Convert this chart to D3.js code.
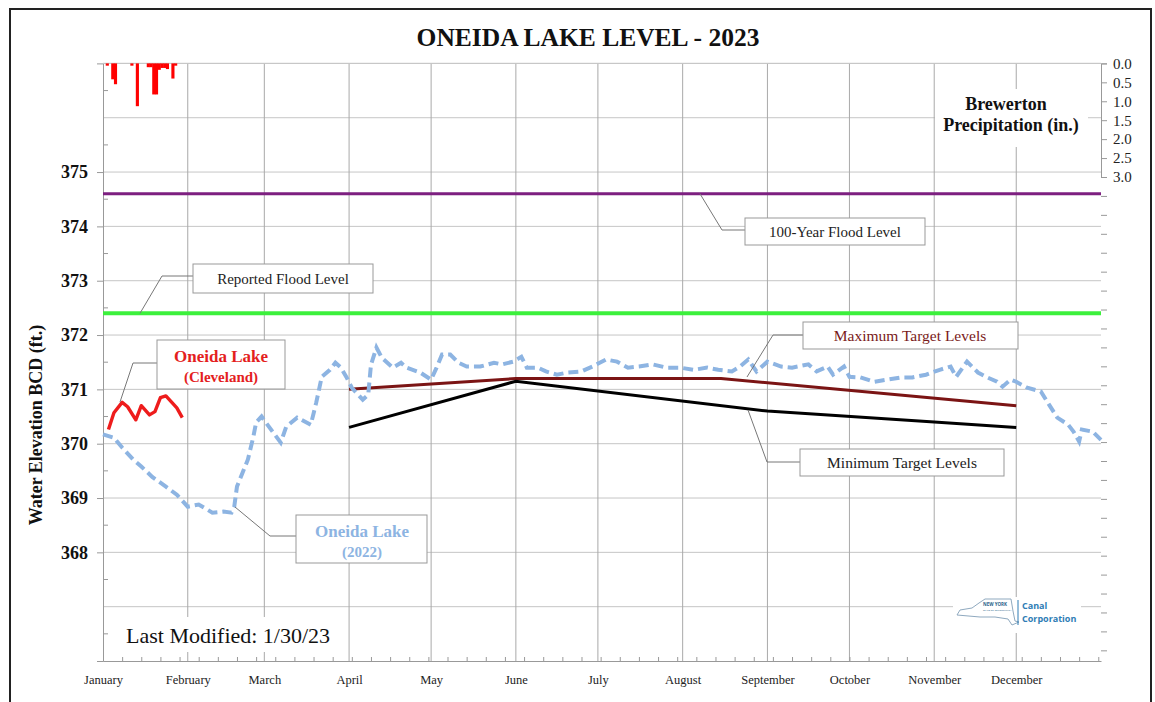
<!DOCTYPE html>
<html lang="en">
<head>
<meta charset="UTF-8"/>
<title>Oneida Lake Level - 2023</title>
<script src="https://d3js.org/d3.v7.min.js"></script>
<style>
    body { margin: 0; background: #fff; }
    text { font-family: "Liberation Serif", "Times New Roman", serif; }
</style>
</head>
<body>
<div id="chart"></div>
<script>

    // day of year (0 = Jan 1) and level in ft, Oneida Lake (Cleveland) 2023
    const lake2023Days = [2, 4, 7, 9, 12, 14, 17, 19, 21, 23, 25, 27, 29];
    const lake2023Levels = [370.26, 370.57, 370.76, 370.68, 370.44, 370.70, 370.53, 370.59, 370.85, 370.88, 370.77, 370.66, 370.48];

    // Oneida Lake 2022 (plotted on the same calendar)
    const lake2022Days = [0, 4, 7, 11, 14, 18, 23, 27, 31, 35, 40, 44, 47, 48, 49, 51, 53, 55, 56, 58,
        61, 65, 67, 71, 76, 78, 80, 83, 85, 87, 89, 91, 95, 97, 98, 100, 102, 106, 109, 111,
        116, 120, 122, 124, 127, 130, 133, 138, 143, 146, 150, 153, 155, 159, 162, 166, 170, 175, 179, 184,
        188, 192, 196, 201, 206, 211, 216, 221, 225, 230, 233, 236, 239, 243, 248, 252, 258, 261, 265, 267,
        271, 273, 277, 282, 287, 292, 296, 301, 306, 310, 312, 316, 320, 323, 327, 329, 332, 334, 338, 343,
        346, 349, 353, 355, 357, 358, 362, 365];
    const lake2022Levels = [370.17, 370.11, 369.93, 369.71, 369.58, 369.39, 369.21, 369.06, 368.84, 368.88,
        368.73, 368.75, 368.73, 368.84, 369.21, 369.46, 369.71, 370.13, 370.39, 370.50,
        370.29, 370.02, 370.31, 370.48, 370.35, 370.76, 371.23, 371.36, 371.49, 371.40,
        371.23, 371.03, 370.81, 370.90, 371.45, 371.77, 371.58, 371.40, 371.49, 371.40,
        371.31, 371.18, 371.40, 371.64, 371.64, 371.49, 371.42, 371.42, 371.49, 371.46,
        371.51, 371.60, 371.40, 371.40, 371.33, 371.27, 371.31, 371.33, 371.42, 371.55,
        371.51, 371.40, 371.42, 371.46, 371.40, 371.40, 371.36, 371.40, 371.36, 371.33,
        371.42, 371.55, 371.33, 371.51, 371.42, 371.40, 371.46, 371.33, 371.42, 371.27,
        371.42, 371.23, 371.22, 371.14, 371.18, 371.22, 371.22, 371.27, 371.36, 371.42,
        371.23, 371.51, 371.31, 371.23, 371.14, 371.05, 371.18, 371.14, 371.03, 370.96,
        370.72, 370.48, 370.35, 370.22, 370.04, 370.26, 370.22, 370.07];

    // Brewerton daily precipitation (in.)
    const precipDays = [1, 3, 4, 10, 12, 16, 17, 18, 19, 20, 21, 22, 23, 25, 26];
    const precipInches = [0.06, 0.42, 0.55, 0.06, 1.13, 0.10, 0.10, 0.82, 0.82, 0.17, 0.12, 0.12, 0.15, 0.40, 0.06];

    // target levels
    const maxTargetDates = ["2023-04-01", "2023-06-01", "2023-08-15", "2023-12-01"];
    const maxTargetLevels = [371.0, 371.2, 371.2, 370.7];
    const minTargetDates = ["2023-04-01", "2023-06-01", "2023-09-01", "2023-11-01", "2023-12-01"];
    const minTargetLevels = [370.3, 371.15, 370.6, 370.4, 370.3];

    const floodLevel100 = 374.6;
    const reportedFloodLevel = 372.4;

    const elevationTicks = [368, 369, 370, 371, 372, 373, 374, 375];
    const precipLabels = [0, 0.5, 1, 1.5, 2, 2.5, 3];

    const W = 1155, H = 702;
    const plot = {left: 103, right: 1101, top: 63.4, bottom: 661};

    const svg = d3.select("#chart")
        .append("svg")
        .attr("width", W)
        .attr("height", H);

    svg.append("rect").attr("width", W).attr("height", H).attr("fill", "#fff");

    // outer frame
    svg.append("rect")
        .attr("x", 10).attr("y", 9)
        .attr("width", 1141).attr("height", 720)
        .attr("fill", "none")
        .attr("stroke", "#222")
        .attr("stroke-width", 2);

    const jan1 = new Date(2023, 0, 1);
    const dayDate = d => d3.timeDay.offset(jan1, d);

    const x = d3.scaleTime()
        .domain([jan1, new Date(2024, 0, 1)])
        .range([plot.left, plot.right]);
    const y = d3.scaleLinear()
        .domain([366, 377])
        .range([plot.bottom, plot.top]);
    const p = d3.scaleLinear()
        .domain([0, 3])
        .range([plot.top, 177]);

    const monthStarts = d3.timeMonth.range(jan1, new Date(2024, 0, 1));

    // grid
    const grid = svg.append("g");
    grid.selectAll("line.h")
        .data(d3.range(367, 378))
        .join("line")
        .attr("class", "h")
        .attr("x1", plot.left).attr("x2", plot.right)
        .attr("y1", d => y(d)).attr("y2", d => y(d))
        .attr("stroke", "#c6c6c6");
    grid.selectAll("line.v")
        .data(monthStarts.slice(1))
        .join("line")
        .attr("class", "v")
        .attr("x1", d => x(d)).attr("x2", d => x(d))
        .attr("y1", plot.top).attr("y2", plot.bottom)
        .attr("stroke", "#a9a9a9");

    // left axis
    const yAxis = svg.append("g")
        .attr("transform", `translate(${plot.left},0)`)
        .call(d3.axisLeft(y).tickValues(elevationTicks).tickFormat(d3.format("d")).tickSize(6).tickPadding(9));
    yAxis.select(".domain").attr("stroke", "#999");
    yAxis.selectAll(".tick line").attr("stroke", "#999");
    yAxis.selectAll("text")
        .style("font-family", "Liberation Serif, serif")
        .style("font-size", "18px")
        .style("font-weight", "bold")
        .attr("fill", "#111");
    svg.append("g")
        .selectAll("line")
        .data(d3.range(366.5, 377, 1))
        .join("line")
        .attr("x1", plot.left).attr("x2", plot.left + 5)
        .attr("y1", d => y(d)).attr("y2", d => y(d))
        .attr("stroke", "#999");

    // right precipitation axis
    const pAxis = svg.append("g")
        .attr("transform", `translate(${plot.right},0)`)
        .call(d3.axisRight(p)
            .tickValues(d3.range(0, p.invert(plot.bottom), 0.5))
            .tickFormat(d => precipLabels.includes(d) ? d3.format(".1f")(d) : "")
            .tickSize(6).tickPadding(6));
    pAxis.select(".domain").attr("stroke", "#999");
    pAxis.selectAll(".tick line").attr("stroke", "#999");
    pAxis.selectAll("text")
        .style("font-family", "Liberation Serif, serif")
        .style("font-size", "15px")
        .attr("fill", "#222");

    // bottom axis
    const xAxis = svg.append("g")
        .attr("transform", `translate(0,${plot.bottom})`)
        .call(d3.axisBottom(x).tickValues(monthStarts).tickFormat(d3.timeFormat("%B")).tickSize(0).tickPadding(14));
    xAxis.select(".domain").attr("stroke", "#999");
    xAxis.selectAll("text")
        .style("font-family", "Liberation Serif, serif")
        .style("font-size", "12.5px")
        .attr("fill", "#222");
    svg.append("g")
        .attr("transform", `translate(0,${plot.bottom})`)
        .call(d3.axisBottom(x).ticks(d3.timeWeek.every(1)).tickFormat("").tickSize(-4))
        .call(g => g.select(".domain").remove())
        .selectAll("line").attr("stroke", "#999");
    svg.append("line")
        .attr("x1", plot.left).attr("x2", plot.right)
        .attr("y1", plot.top).attr("y2", plot.top)
        .attr("stroke", "#c6c6c6");

    // white backgrounds for the in-plot labels
    svg.append("rect").attr("x", 935).attr("y", 89).attr("width", 153).attr("height", 58).attr("fill", "#fff");
    svg.append("rect").attr("x", 120).attr("y", 617).attr("width", 222).attr("height", 35).attr("fill", "#fff");
    svg.append("rect").attr("x", 953).attr("y", 597).attr("width", 128).attr("height", 36).attr("fill", "#fff");

    // precipitation bars
    const precip = precipDays.map((d, i) => ({day: d, value: precipInches[i]}));
    svg.append("g")
        .selectAll("rect")
        .data(precip)
        .join("rect")
        .attr("x", d => x(dayDate(d.day)))
        .attr("width", d => x(dayDate(d.day + 1)) - x(dayDate(d.day)) + 0.4)
        .attr("y", p(0))
        .attr("height", d => p(d.value) - p(0))
        .attr("fill", "#ff0000");

    // flood levels
    svg.append("line")
        .attr("x1", plot.left).attr("x2", plot.right)
        .attr("y1", y(floodLevel100)).attr("y2", y(floodLevel100))
        .attr("stroke", "#7d1f80").attr("stroke-width", 3);
    svg.append("line")
        .attr("x1", plot.left).attr("x2", plot.right)
        .attr("y1", y(reportedFloodLevel)).attr("y2", y(reportedFloodLevel))
        .attr("stroke", "#3cf03c").attr("stroke-width", 4);

    const line = d3.line().x(d => x(d.date)).y(d => y(d.value));

    // target levels
    const maxTarget = maxTargetDates.map((d, i) => ({date: d3.timeParse("%Y-%m-%d")(d), value: maxTargetLevels[i]}));
    const minTarget = minTargetDates.map((d, i) => ({date: d3.timeParse("%Y-%m-%d")(d), value: minTargetLevels[i]}));
    svg.append("path").datum(maxTarget).attr("d", line)
        .attr("fill", "none").attr("stroke", "#7b1414").attr("stroke-width", 3);
    svg.append("path").datum(minTarget).attr("d", line)
        .attr("fill", "none").attr("stroke", "#000").attr("stroke-width", 3);

    // 2022 lake level
    const lake2022 = lake2022Days.map((d, i) => ({date: dayDate(d), value: lake2022Levels[i]}));
    svg.append("path").datum(lake2022).attr("d", line)
        .attr("fill", "none")
        .attr("stroke", "#8db4e2")
        .attr("stroke-width", 4)
        .attr("stroke-dasharray", "10,5");

    // 2023 lake level
    const lake2023 = lake2023Days.map((d, i) => ({date: dayDate(d), value: lake2023Levels[i]}));
    svg.append("path").datum(lake2023).attr("d", line)
        .attr("fill", "none")
        .attr("stroke", "#ee1c1c")
        .attr("stroke-width", 3.4)
        .attr("stroke-linejoin", "round");

    // annotations
    function leader(points) {
        svg.append("polyline")
            .attr("points", points.map(pt => pt.join(",")).join(" "))
            .attr("fill", "none")
            .attr("stroke", "#777")
            .attr("stroke-width", 1);
    }
    function box(x0, y0, w, h) {
        svg.append("rect")
            .attr("x", x0).attr("y", y0).attr("width", w).attr("height", h)
            .attr("fill", "#fff").attr("stroke", "#999").attr("stroke-width", 1);
    }
    function label(tx, ty, str, size, color, bold) {
        svg.append("text")
            .attr("x", tx).attr("y", ty)
            .attr("text-anchor", "middle")
            .style("font-size", size + "px")
            .style("font-weight", bold ? "bold" : "normal")
            .attr("fill", color)
            .text(str);
    }

    leader([[700, y(floodLevel100)], [722, 230], [745, 230]]);
    box(745, 218, 180, 27);
    label(835, 237, "100-Year Flood Level", 15, "#222", false);

    leader([[140, y(reportedFloodLevel)], [162, 276], [193, 276]]);
    box(193, 264, 180, 29);
    label(283, 284, "Reported Flood Level", 15, "#222", false);

    leader([[120, 402], [133, 363], [157, 363]]);
    box(157, 340, 128, 49);
    label(221, 362, "Oneida Lake", 17, "#e41e1e", true);
    label(221, 382, "(Cleveland)", 15, "#e41e1e", true);

    leader([[235, 507], [270, 536], [296, 536]]);
    box(296, 515, 131, 48);
    label(362, 537, "Oneida Lake", 17, "#8db4e2", true);
    label(362, 557, "(2022)", 15, "#8db4e2", true);

    leader([[747, 377], [773, 335], [803, 335]]);
    box(803, 322, 215, 27);
    label(910, 341, "Maximum Target Levels", 15.5, "#7a1a1a", false);

    leader([[748, 410], [767, 462], [800, 462]]);
    box(800, 449, 204, 27);
    label(902, 468, "Minimum Target Levels", 15.5, "#222", false);

    // titles
    label(588, 46, "ONEIDA LAKE LEVEL - 2023", 25.5, "#111", true);
    label(1006, 110, "Brewerton", 18, "#111", true);
    label(1011, 131, "Precipitation (in.)", 18, "#111", true);

    svg.append("text")
        .attr("transform", "translate(42,425) rotate(-90)")
        .attr("text-anchor", "middle")
        .style("font-size", "18px")
        .style("font-weight", "bold")
        .attr("fill", "#111")
        .text("Water Elevation BCD (ft.)");

    svg.append("text")
        .attr("x", 126).attr("y", 643)
        .style("font-size", "22px")
        .attr("fill", "#111")
        .text("Last Modified: 1/30/23");

    // Canal Corporation logo
    const logo = svg.append("g");
    logo.append("path")
        .attr("d", "M957,615 L960,610 L972,608 L979,603 L985,599 L1011,599 L1013,611 L1015,621 L1019,622 L1012,625 L1008,619 L995,617 L980,617 Z")
        .attr("fill", "none").attr("stroke", "#8fa9bf").attr("stroke-width", 1);
    logo.append("text").attr("x", 983).attr("y", 606)
        .style("font-family", "Open Sans, sans-serif").style("font-size", "4.5px").style("font-weight", "bold")
        .attr("fill", "#2a5f8a").text("NEW YORK");
    logo.append("text").attr("x", 983).attr("y", 611)
        .style("font-family", "Open Sans, sans-serif").style("font-size", "2.5px")
        .attr("fill", "#2a5f8a").text("STATE OF OPPORTUNITY");
    logo.append("line").attr("x1", 1018).attr("x2", 1018).attr("y1", 600).attr("y2", 625)
        .attr("stroke", "#2e7db5").attr("stroke-width", 1);
    logo.append("text").attr("x", 1022).attr("y", 609)
        .style("font-family", "Open Sans, sans-serif").style("font-size", "9px").style("font-weight", "bold")
        .attr("fill", "#2e7db5").text("Canal");
    logo.append("text").attr("x", 1022).attr("y", 622)
        .style("font-family", "Open Sans, sans-serif").style("font-size", "9px").style("font-weight", "bold")
        .attr("fill", "#2e7db5").text("Corporation");

</script>
</body>
</html>
